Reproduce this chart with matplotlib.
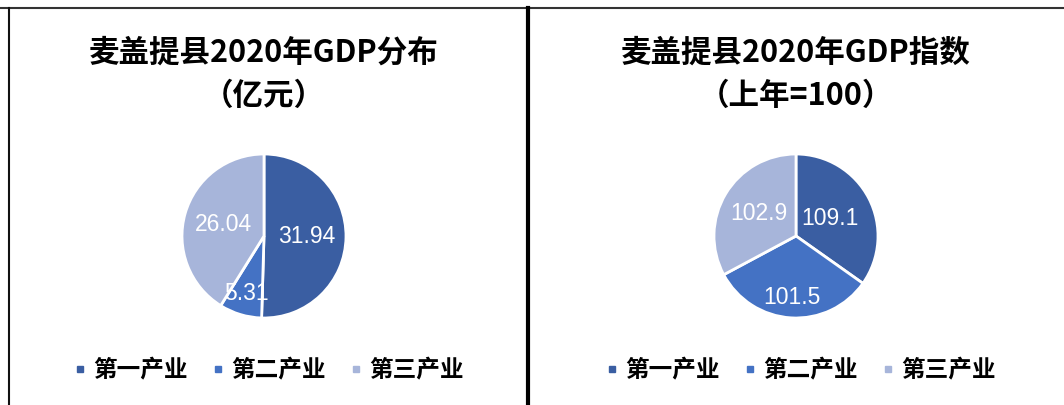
import numpy as np
import matplotlib
matplotlib.use("Agg")
import matplotlib.pyplot as plt
from matplotlib.lines import Line2D

plt.rcParams['font.family'] = ['Noto Sans CJK SC', 'DejaVu Sans']

categories = ['第一产业', '第二产业', '第三产业']
gdp_values = [31.94, 5.31, 26.04]
gdp_labels = ['31.94', '5.31', '26.04']
index_values = [109.1, 101.5, 102.9]
index_labels = ['109.1', '101.5', '102.9']
titles = ['麦盖提县2020年GDP分布\n（亿元）', '麦盖提县2020年GDP指数\n（上年=100）']
colors = ['#3A5EA2', '#4472C4', '#A7B5DA']

W, H = 1064, 405
fig = plt.figure(figsize=(W / 100, H / 100), dpi=100)
fig.patch.set_facecolor('white')

def px_ax(cx, cy, r):
    return fig.add_axes([(cx - r) / W, (H - cy - r) / H, 2 * r / W, 2 * r / H])

def draw_pie(cx, values, labels, dists, title):
    ax = px_ax(cx, 236, 82)
    wedges, _ = ax.pie(values, colors=colors, startangle=90, counterclock=False,
                       radius=1.0, wedgeprops=dict(edgecolor='white', linewidth=2.0))
    ax.set_xlim(-1, 1)
    ax.set_ylim(-1, 1)
    ax.set_aspect('equal')
    for w, lab, d in zip(wedges, labels, dists):
        ang = np.deg2rad((w.theta1 + w.theta2) / 2)
        ax.text(d * np.cos(ang), d * np.sin(ang), lab, ha='center', va='center',
                color='white', fontsize=16.5, family=['Liberation Sans', 'DejaVu Sans'])
    fig.text(cx / W, 1 - 74 / H, title, ha='center', va='center', fontsize=22,
             fontweight='bold', linespacing=1.45)
    handles = [Line2D([], [], marker='s', linestyle='none', markersize=4.5,
                      markerfacecolor=c, markeredgecolor=c) for c in colors]
    fig.legend(handles, categories, loc='center', ncol=3,
               bbox_to_anchor=((cx + 5) / W, 1 - 370 / H), frameon=False,
               prop=dict(size=17, weight='bold'), handletextpad=0.3,
               columnspacing=1.05, handlelength=0.5, borderpad=0, borderaxespad=0)

draw_pie(264, gdp_values, gdp_labels, [0.52, 0.73, 0.52], titles[0])
draw_pie(796, index_values, index_labels, [0.47, 0.75, 0.53], titles[1])

# frames
frame = fig.add_axes([0, 0, 1, 1], zorder=-1)
frame.set_xlim(0, W)
frame.set_ylim(H, 0)
frame.axis('off')
frame.plot([0, W], [8, 8], color='#333333', lw=1.5)
frame.plot([9, 9], [8, H], color='#111111', lw=1.5)
frame.plot([528, 528], [8, H], color='black', lw=3)

fig.savefig('out.png', dpi=100, facecolor='white')
